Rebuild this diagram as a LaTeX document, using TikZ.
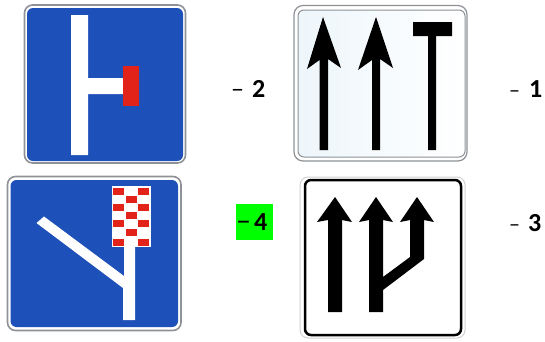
\documentclass[tikz,border=0pt]{standalone}
\usepackage{fontspec}
\setmainfont{Carlito}
\definecolor{signblue}{HTML}{1D50B8}
\definecolor{signred}{HTML}{E2231A}
\definecolor{rim}{HTML}{8E9296}
\definecolor{pale}{HTML}{EDF6FB}
\definecolor{hl}{HTML}{00FF00}
\tikzset{
  rimbox/.style={draw=rim,line width=1.6pt,fill=white,rounded corners=8pt},
  bluebox/.style={fill=signblue,rounded corners=6pt},
  whiteshape/.style={fill=white,draw=none},
  redshape/.style={fill=signred,draw=none},
  blackshape/.style={fill=black,draw=none},
  lbl/.style={inner sep=0pt,anchor=west}
}
\newcommand{\lab}[3]{{\fontsize{#1}{#1}\selectfont –}\hspace{#2}{\fontsize{26}{26}\selectfont\textbf{#3}}}
\begin{document}
\begin{tikzpicture}[x=1pt,y=-1pt]
\useasboundingbox (0,0) rectangle (545,341);
% sign top left
\draw[rimbox] (24.5,5) rectangle (185.5,163);
\fill[bluebox] (27,8) rectangle (183,161);
\fill[whiteshape] (71,15) -- (88,15) -- (88,78) -- (123,78) -- (123,94) -- (88,94) -- (88,155) -- (71,155) -- cycle;
\fill[redshape] (123,66) rectangle (139,106);
\node[lbl] (two) at (231,89) {\lab{26}{8pt}{2}};
% sign top right
\draw[draw=rim,line width=1.2pt,fill=white,rounded corners=9pt] (294,5.5) rectangle (467,161);
\draw[draw=rim,line width=1pt,left color=pale,right color=white,rounded corners=6pt] (298,10) rectangle (465,157);
\fill[blackshape] (319.5,150) -- (319.5,60) -- (307,69) -- (323,17) -- (341,68) -- (328,59) -- (328,150) -- cycle;
\fill[blackshape] (372,150) -- (372,60) -- (358,70) -- (376,17) -- (393,68) -- (380,59) -- (380,150) -- cycle;
\fill[blackshape] (413,22) -- (452,22) -- (452,36) -- (436,36) -- (436,150) -- (428,150) -- (428,36) -- (413,36) -- cycle;
\node[lbl] (one) at (509,89) {\lab{22}{9pt}{1}};
% sign bottom left
\draw[rimbox] (7.5,176.5) rectangle (181,330.5);
\fill[bluebox] (10.5,180) rectangle (178,327);
\fill[whiteshape] (36.5,223) -- (44,216.5) -- (124,276) -- (124,186) -- (135,186) -- (135,320) -- (123,320) -- (123,288) -- cycle;
\fill[whiteshape] (112,186) rectangle (151,247);
\foreach \cy/\cxs in {191/{118,143},199.5/{131},207/{118,143},215/{131},223.5/{118,143},232/{131},242/{118,143}}{
  \foreach \cx in \cxs { \fill[redshape] (\cx-5.5,\cy-3.5) rectangle (\cx+5.5,\cy+3.5); }
}
\fill[hl] (236,204) rectangle (273,240);
\node[lbl] (four) at (236,222) {\lab{30}{3pt}{4}};
% sign bottom right
\draw[draw=black!18,line width=1pt,rounded corners=8pt] (300,177) rectangle (465,338);
\draw[draw=black,line width=2.5pt,fill=white,rounded corners=6pt] (305,180) rectangle (461,335);
\fill[blackshape] (328,312) -- (328,220) -- (317,222) -- (335,197) -- (352,222) -- (342,220) -- (342,312) -- cycle;
\fill[blackshape] (369,312) -- (369,220) -- (359,222) -- (376,197) -- (393,222) -- (383,220) -- (383,277) -- (410,257) -- (410,220) -- (400,222) -- (417,197) -- (434,222) -- (424,220) -- (424,259) -- (383,290) -- (383,312) -- cycle;
\node[lbl] (three) at (509,223) {\lab{22}{8pt}{3}};
\end{tikzpicture}
\end{document}
